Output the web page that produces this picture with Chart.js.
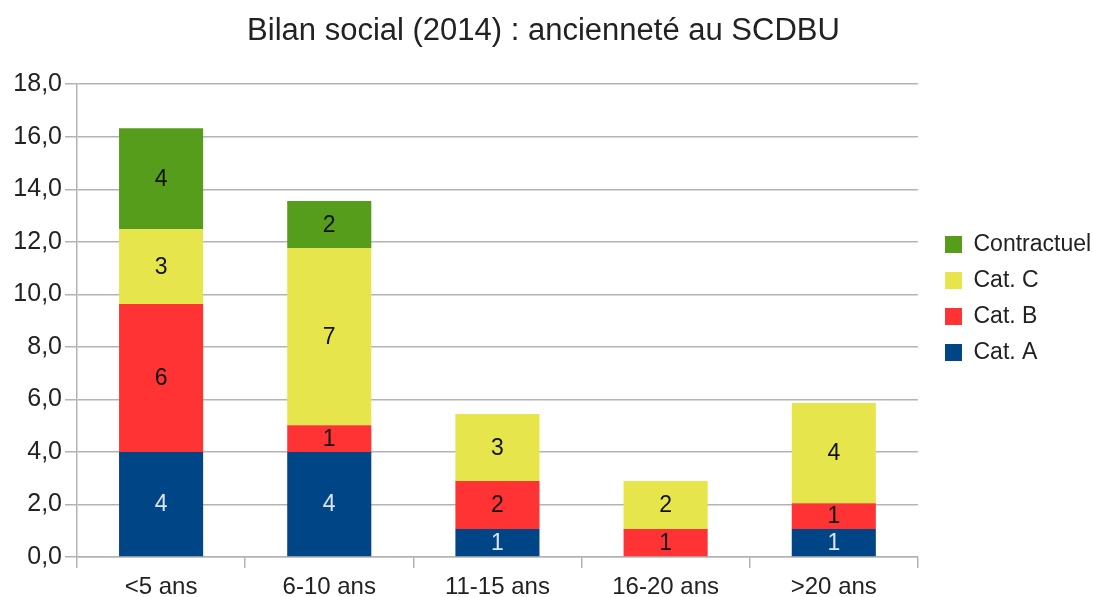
<!DOCTYPE html>
<html>
<head>
<meta charset="utf-8">
<script src="https://cdn.jsdelivr.net/npm/chart.js@4.4.0/dist/chart.umd.min.js"></script>
<style>
  html, body { margin: 0; padding: 0; background: #fff; }
  #wrap { width: 1093px; height: 597px; }
</style>
</head>
<body>
<div id="wrap"><canvas id="chart" width="1093" height="597"></canvas></div>
<script>
// data (bar heights, labels show rounded values)
const categories = ['<5 ans', '6-10 ans', '11-15 ans', '16-20 ans', '>20 ans'];
const catA = [4.0, 4.0, 1.07, 0, 1.07];
const catB = [5.63, 1.02, 1.82, 1.07, 0.98];
const catC = [2.85, 6.74, 2.55, 1.82, 3.81];
const contractuel = [3.84, 1.79, 0, 0, 0];
const yTicksMax = 18;
const yTicksStep = 2;

const FONT = "'Liberation Sans', Arial, sans-serif";

// draws the rounded value in the middle of each segment
const segLabels = {
    id: 'segLabels',
    afterDatasetsDraw(chart) {
        const ctx = chart.ctx;
        ctx.save();
        ctx.font = '23px ' + FONT;
        ctx.textAlign = 'center';
        ctx.textBaseline = 'middle';
        chart.data.datasets.forEach((ds, i) => {
            const meta = chart.getDatasetMeta(i);
            meta.data.forEach((bar, j) => {
                const v = ds.data[j];
                if (!v) return;
                ctx.fillStyle = ds.labelColor;
                ctx.fillText(String(Math.round(v)), bar.x, (bar.y + bar.base) / 2 + 1);
            });
        });
        ctx.restore();
    }
};

// push the legend a bit to the right, away from the plot
const legendNudge = {
    id: 'legendNudge',
    afterLayout(chart) {
        const lg = chart.legend;
        if (!lg) return;
        const dx = 932 - lg.left;
        lg.left += dx;
        lg.right += dx;
    }
};

const ctx = document.getElementById('chart').getContext('2d');
new Chart(ctx, {
    type: 'bar',
    data: {
        labels: categories,
        datasets: [
            { label: 'Cat. A', data: catA, backgroundColor: '#004586', labelColor: '#dde4ee' },
            { label: 'Cat. B', data: catB, backgroundColor: '#ff3333', labelColor: '#111' },
            { label: 'Cat. C', data: catC, backgroundColor: '#e6e64c', labelColor: '#111' },
            { label: 'Contractuel', data: contractuel, backgroundColor: '#579d1c', labelColor: '#111' }
        ]
    },
    options: {
        responsive: false,
        animation: false,
        layout: { padding: { left: 0, right: 6, top: 0, bottom: 0 } },
        datasets: { bar: { categoryPercentage: 1, barPercentage: 0.5 } },
        scales: {
            x: {
                stacked: true,
                afterFit: s => { s.height = 40; },
                grid: { offset: true, drawOnChartArea: false, drawTicks: true, tickLength: 11, color: '#b3b3b3', lineWidth: 1.5 },
                border: { color: '#b3b3b3', width: 1.5 },
                ticks: { color: '#222', font: { family: FONT, size: 24 }, padding: 5 }
            },
            y: {
                stacked: true,
                min: 0, max: yTicksMax,
                afterFit: s => { s.width = 77; },
                grid: { color: '#b3b3b3', lineWidth: 1.5, tickLength: 12 },
                border: { color: '#b3b3b3', width: 1.5 },
                ticks: {
                    stepSize: yTicksStep,
                    color: '#222',
                    font: { family: FONT, size: 25 },
                    padding: 3,
                    callback: v => v.toFixed(1).replace('.', ',')
                }
            }
        },
        plugins: {
            title: {
                display: true,
                text: 'Bilan social (2014) : ancienneté au SCDBU',
                color: '#222',
                font: { family: FONT, size: 31, weight: 'normal' },
                padding: { top: 13, bottom: 34 }
            },
            legend: {
                position: 'right',
                reverse: true,
                labels: {
                    boxWidth: 17, boxHeight: 17,
                    color: '#222',
                    font: { family: FONT, size: 23 },
                    padding: 13
                }
            },
            tooltip: { enabled: false }
        }
    },
    plugins: [segLabels, legendNudge]
});
</script>
</body>
</html>
